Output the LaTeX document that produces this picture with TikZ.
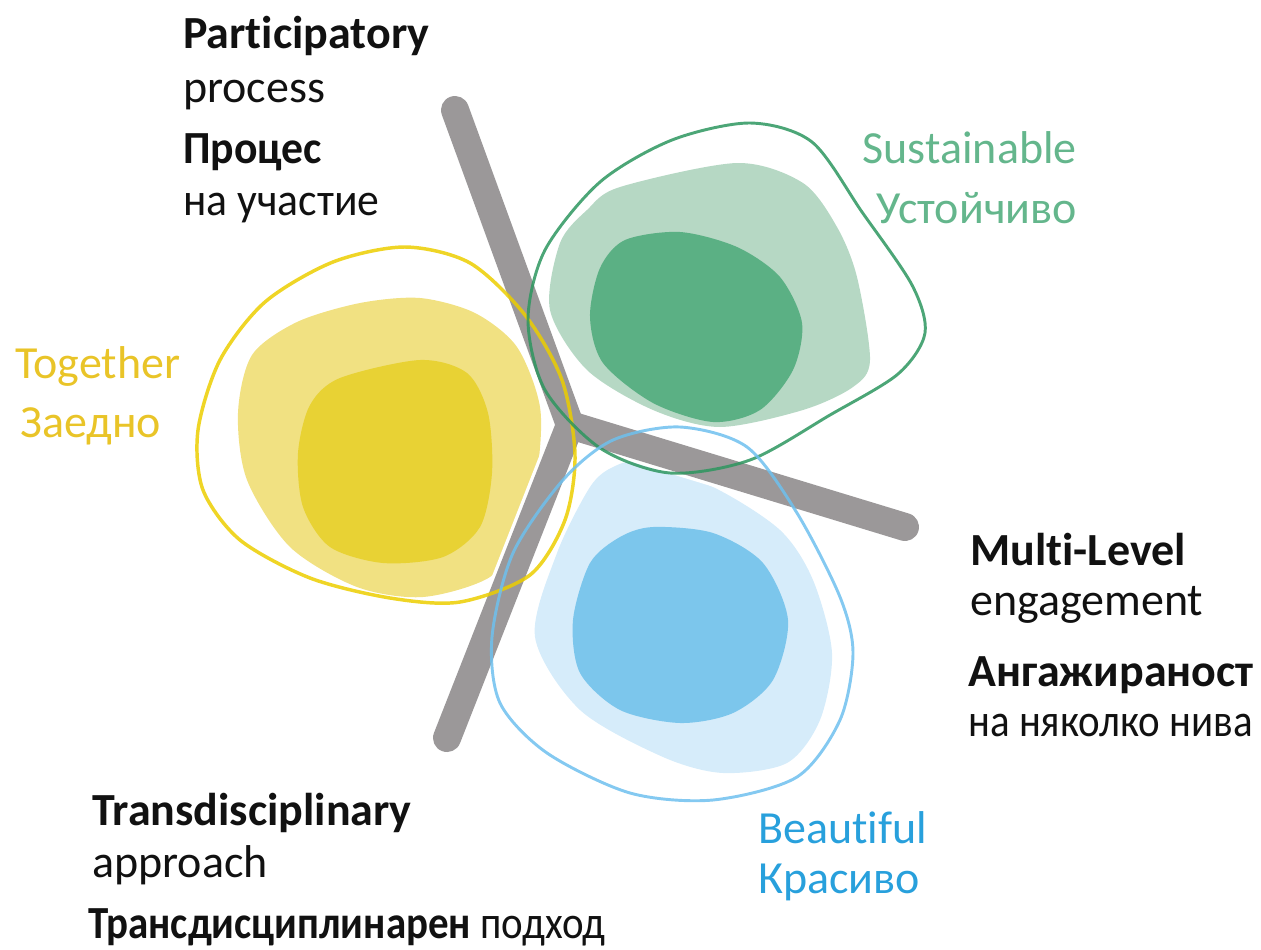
\documentclass[tikz,border=0pt]{standalone}
\usepackage{fontspec}
\setmainfont{Carlito}[Ligatures=NoCommon]
\definecolor{armgray}{RGB}{155,152,153}
\definecolor{yline}{RGB}{236,206,0}
\definecolor{ylight}{RGB}{241,225,130}
\definecolor{ydark}{RGB}{232,210,52}
\definecolor{ytext}{RGB}{233,196,40}
\definecolor{gline}{RGB}{45,150,95}
\definecolor{glight}{RGB}{182,216,196}
\definecolor{gdark}{RGB}{91,176,132}
\definecolor{gtext}{RGB}{100,182,140}
\definecolor{bline}{RGB}{110,192,238}
\definecolor{blight}{RGB}{214,236,250}
\definecolor{bdark}{RGB}{124,198,236}
\definecolor{btext}{RGB}{40,160,220}
\definecolor{inkdark}{RGB}{17,17,17}
\begin{document}
\begin{tikzpicture}[x=0.75pt,y=-0.75pt,
  lbl/.style={anchor=base west,inner sep=0pt,font=\fontsize{34.5}{40}\selectfont},
  lblb/.style={lbl,font=\fontsize{34.5}{40}\selectfont\bfseries,text=inkdark},
  lblr/.style={lbl,text=inkdark},
  blobline/.style={line width=2.6pt,opacity=0.85},
  arm/.style={armgray,line width=21pt,line cap=round,line join=miter},
  armhalo/.style={white,line width=26pt,line cap=round,line join=miter}]
\useasboundingbox (0,0) rectangle (1261,950);
\fill[ylight] plot[smooth cycle] coordinates {(297,322) (360,303) (420,298) (475,313) (517,347) (540,407) (537,473) (520,533) (490,577) (423,597) (357,587) (290,547) (247,480) (238,413) (252,355)};
\fill[ydark] plot[smooth cycle] coordinates {(340,378) (420,360) (467,373) (488,413) (492,473) (480,527) (443,557) (383,563) (330,547) (303,507) (298,453) (310,405)};
\fill[glight] plot[smooth cycle] coordinates {(620,187) (737,163) (803,183) (837,227) (857,277) (870,360) (853,387) (803,410) (720,427) (653,410) (587,370) (550,310) (560,243) (587,210)};
\fill[gdark] plot[smooth cycle] coordinates {(625,240) (680,232) (737,247) (780,277) (802,323) (793,370) (760,410) (713,422) (653,403) (603,363) (590,317) (600,268)};
\fill[blight] plot[smooth cycle] coordinates {(640,463) (713,487) (780,530) (813,580) (832,653) (820,720) (787,763) (723,773) (663,757) (580,710) (535,637) (557,553) (590,487) (613,467)};
\fill[bdark] plot[smooth cycle] coordinates {(653,527) (713,533) (763,563) (788,620) (773,680) (733,713) (680,723) (620,710) (580,673) (573,620) (590,563) (620,537)};
\coordinate (J) at (570,425);
\coordinate (Atop) at (455,110);
\coordinate (Abot) at (447,738);
\coordinate (Aright) at (905,527);
\draw[armhalo] (Atop) -- (J) -- (Abot);
\draw[armhalo] (J) -- (Aright);
\draw[arm] (Atop) -- (J) -- (Abot);
\draw[arm] (J) -- (Aright);
\draw[blobline,yline] plot[smooth cycle] coordinates {(405,247) (470,263) (525,315) (562,380) (575,455) (565,520) (530,575) (460,602) (390,598) (310,578) (240,540) (203,490) (198,430) (220,360) (265,302) (333,262)};
\draw[blobline,gline,line width=2.2pt] plot[smooth cycle] coordinates {(750,123) (812,142) (862,212) (912,285) (925,333) (898,374) (830,415) (750,460) (670,473) (600,448) (545,390) (528,320) (545,250) (600,182) (672,140)};
\draw[blobline,bline,line width=2.2pt] plot[smooth cycle] coordinates {(680,427) (747,447) (797,513) (840,597) (853,653) (840,720) (797,777) (713,800) (630,793) (547,753) (500,703) (492,637) (513,553) (563,480) (613,440)};
\node[lblb] (p1) at (183,48) {Participatory};
\node[lblr] (p2) at (183,102) {process};
\node[lblb] (p3) at (183,163) {\scalebox{0.95}[1]{Процес}};
\node[lblr] (p4) at (183,215) {\scalebox{0.95}[1]{на участие}};
\node[lbl,text=ytext] (t1) at (15,378) {Together};
\node[lbl,text=ytext] (t2) at (20,437) {Заедно};
\node[lbl,text=gtext,anchor=base east] (s1) at (1077,163) {Sustainable};
\node[lbl,text=gtext,anchor=base east] (s2) at (1077,223) {Устойчиво};
\node[lblb] (m1) at (970,565) {Multi-Level};
\node[lblr] (m2) at (970,615) {engagement};
\node[lblb] (m3) at (968,686) {Ангажираност};
\node[lblr] (m4) at (968,736) {\scalebox{0.89}[1]{на няколко нива}};
\node[lblr] (d3) at (88,938) {\scalebox{0.89}[1]{\textbf{Трансдисциплинарен} подход}};
\node[lblb] (d1) at (92,825) {Transdisciplinary};
\node[lblr] (d2) at (92,877) {approach};
\node[lbl,text=btext] (b1) at (758,843) {Beautiful};
\node[lbl,text=btext] (b2) at (758,893) {Красиво};
\end{tikzpicture}
\end{document}
